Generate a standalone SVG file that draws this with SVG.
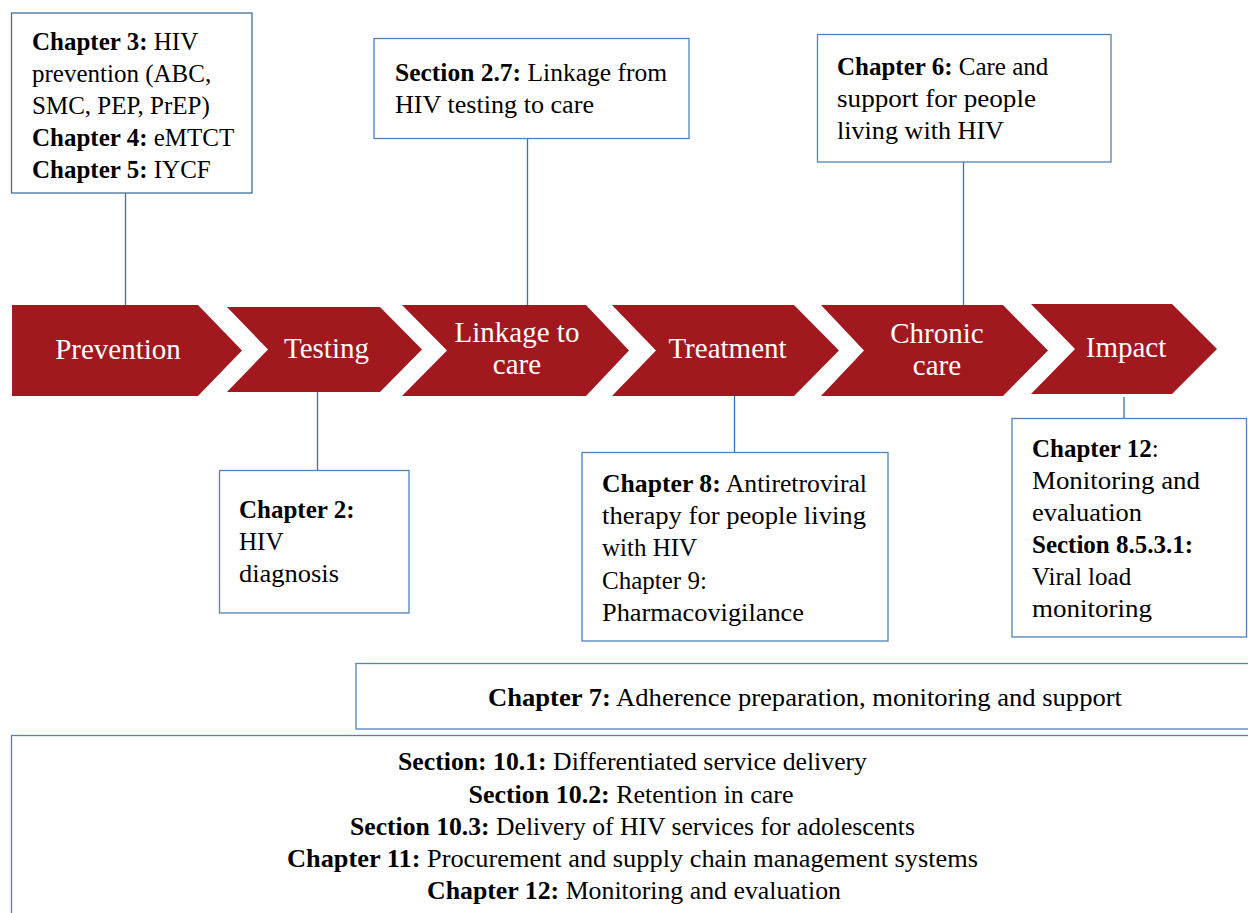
<svg xmlns="http://www.w3.org/2000/svg" width="1248" height="913" viewBox="0 0 1248 913">
<style>
  text { font-family: "Liberation Serif", "Times New Roman", serif; fill: #000; }
  .t { font-size: 25px; }
  .b { font-weight: bold; }
  .lab { font-size: 29px; fill: #fff; text-anchor: middle; }
  .box { fill: #fff; stroke: #4f81bd; stroke-width: 1.3; }
  .chev { fill: #a2181f; }
  .con { stroke: #2e75b6; stroke-width: 1.3; fill: none; }
  .mid { text-anchor: middle; }
</style>
<rect width="1248" height="913" fill="#fff"/>

<g id="connectors">
  <line class="con" x1="125.5" y1="193" x2="125.5" y2="315"/>
  <line class="con" x1="527.5" y1="138" x2="527.5" y2="312"/>
  <line class="con" x1="963.5" y1="162" x2="963.5" y2="311"/>
  <line class="con" x1="317.5" y1="390" x2="317.5" y2="470"/>
  <line class="con" x1="734.5" y1="396" x2="734.5" y2="452"/>
  <line class="con" x1="1124" y1="397" x2="1124" y2="418"/>
</g>

<g id="stage-prevention">
  <path class="chev" d="M12,305 L198,305 L242,350.5 L198,396 L12,396 Z"/>
  <text class="lab" x="118" y="359">Prevention</text>
</g>
<g id="stage-testing">
  <path class="chev" d="M227,307 L380,307 L422,349.5 L380,392 L227,392 L268,349.5 Z"/>
  <text class="lab" x="326.5" y="358">Testing</text>
</g>
<g id="stage-linkage">
  <path class="chev" d="M402,305 L586,305 L629,350.5 L586,396 L402,396 L447,350.5 Z"/>
  <text class="lab" x="517" y="342">Linkage to</text>
  <text class="lab" x="517" y="374">care</text>
</g>
<g id="stage-treatment">
  <path class="chev" d="M612,305 L794,305 L839,350.5 L794,396 L612,396 L656,350.5 Z"/>
  <text class="lab" x="727.5" y="358">Treatment</text>
</g>
<g id="stage-chronic">
  <path class="chev" d="M821,305 L1003,305 L1048,350.5 L1003,396 L821,396 L864,350.5 Z"/>
  <text class="lab" x="937" y="343">Chronic</text>
  <text class="lab" x="937" y="375">care</text>
</g>
<g id="stage-impact">
  <path class="chev" d="M1031,304 L1172,304 L1217,349 L1172,394 L1031,394 L1075,349 Z"/>
  <text class="lab" x="1126" y="357">Impact</text>
</g>

<g id="box-prevention">
  <rect class="box" x="11.5" y="13" width="240.5" height="180" style="stroke:#41719c"/>
  <text class="t" x="32" y="50"><tspan class="b">Chapter 3:</tspan> HIV</text>
  <text class="t" x="32" y="82">prevention (ABC,</text>
  <text class="t" x="32" y="114">SMC, PEP, PrEP)</text>
  <text class="t" x="32" y="146"><tspan class="b">Chapter 4:</tspan> eMTCT</text>
  <text class="t" x="32" y="178"><tspan class="b">Chapter 5:</tspan> IYCF</text>
</g>

<g id="box-linkage">
  <rect class="box" x="374" y="38.5" width="315" height="100"/>
  <text class="t" x="395" y="81" textLength="272" lengthAdjust="spacingAndGlyphs"><tspan class="b">Section 2.7:</tspan> Linkage from</text>
  <text class="t" x="395" y="113" textLength="199" lengthAdjust="spacingAndGlyphs">HIV testing to care</text>
</g>

<g id="box-chronic">
  <rect class="box" x="817.5" y="34.5" width="293.5" height="127.5"/>
  <text class="t" x="837" y="75"><tspan class="b">Chapter 6:</tspan> Care and</text>
  <text class="t" x="837" y="107" textLength="199" lengthAdjust="spacingAndGlyphs">support for people</text>
  <text class="t" x="837" y="139" textLength="167" lengthAdjust="spacingAndGlyphs">living with HIV</text>
</g>

<g id="box-testing">
  <rect class="box" x="219.5" y="470.5" width="189.5" height="142.5"/>
  <text class="t b" x="239" y="518">Chapter 2:</text>
  <text class="t" x="239" y="550">HIV</text>
  <text class="t" x="239" y="582" textLength="100" lengthAdjust="spacingAndGlyphs">diagnosis</text>
</g>

<g id="box-treatment">
  <rect class="box" x="582" y="452.5" width="306" height="188.5"/>
  <text class="t" x="602" y="492" textLength="265" lengthAdjust="spacingAndGlyphs"><tspan class="b">Chapter 8:</tspan> Antiretroviral</text>
  <text class="t" x="602" y="524" textLength="264" lengthAdjust="spacingAndGlyphs">therapy for people living</text>
  <text class="t" x="602" y="556">with HIV</text>
  <text class="t" x="602" y="589">Chapter 9:</text>
  <text class="t" x="602" y="621" textLength="202" lengthAdjust="spacingAndGlyphs">Pharmacovigilance</text>
</g>

<g id="box-impact">
  <rect class="box" x="1012" y="418.5" width="234.5" height="218.5"/>
  <text class="t" x="1032" y="457"><tspan class="b">Chapter 12</tspan>:</text>
  <text class="t" x="1032" y="489" textLength="168" lengthAdjust="spacingAndGlyphs">Monitoring and</text>
  <text class="t" x="1032" y="521" textLength="110" lengthAdjust="spacingAndGlyphs">evaluation</text>
  <text class="t b" x="1032" y="553">Section 8.5.3.1:</text>
  <text class="t" x="1032" y="585">Viral load</text>
  <text class="t" x="1032" y="617" textLength="120" lengthAdjust="spacingAndGlyphs">monitoring</text>
</g>

<g id="box-adherence">
  <rect class="box" x="356" y="663.5" width="920" height="65.5"/>
  <text class="t mid" x="805" y="706" textLength="634" lengthAdjust="spacingAndGlyphs"><tspan class="b">Chapter 7:</tspan> Adherence preparation, monitoring and support</text>
</g>

<g id="box-cross-cutting">
  <rect class="box" x="11.5" y="735.5" width="1260" height="200"/>
  <text class="t mid" x="632.5" y="770" textLength="469" lengthAdjust="spacingAndGlyphs"><tspan class="b">Section: 10.1:</tspan> Differentiated service delivery</text>
  <text class="t mid" x="631" y="803" textLength="325" lengthAdjust="spacingAndGlyphs"><tspan class="b">Section 10.2:</tspan> Retention in care</text>
  <text class="t mid" x="632.5" y="835" textLength="565" lengthAdjust="spacingAndGlyphs"><tspan class="b">Section 10.3:</tspan> Delivery of HIV services for adolescents</text>
  <text class="t mid" x="632.5" y="867" textLength="691" lengthAdjust="spacingAndGlyphs"><tspan class="b">Chapter 11:</tspan> Procurement and supply chain management systems</text>
  <text class="t mid" x="634" y="899" textLength="414" lengthAdjust="spacingAndGlyphs"><tspan class="b">Chapter 12:</tspan> Monitoring and evaluation</text>
</g>
</svg>
